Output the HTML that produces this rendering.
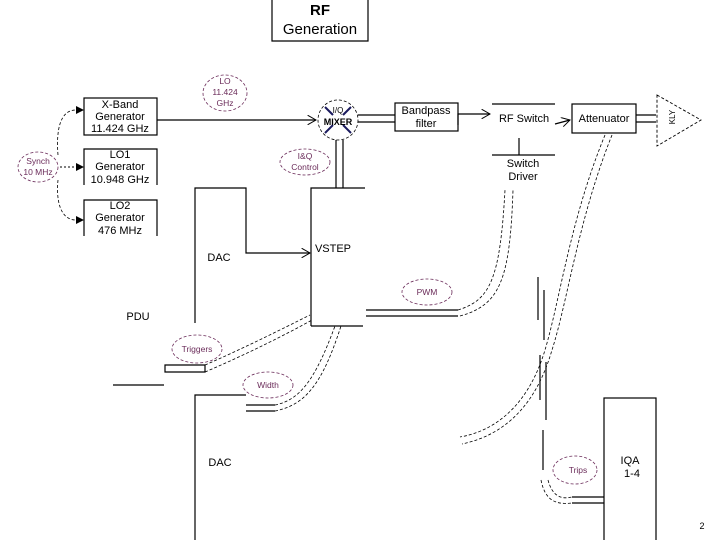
<!DOCTYPE html>
<html><head><meta charset="utf-8"><style>
body{margin:0;background:#fff;}
svg{display:block}
text{font-family:"Liberation Sans",sans-serif;}
.b{font-size:11px;fill:#000;text-anchor:middle}
.p{font-size:8.5px;fill:#6b2c5a;text-anchor:middle}
.e{fill:none;stroke:#6b2c5a;stroke-width:0.8;stroke-dasharray:3,2}
.d{fill:none;stroke:#000;stroke-width:0.8;stroke-dasharray:3,2}
</style></head><body>
<svg width="720" height="540" viewBox="0 0 720 540">
<defs><marker id="a" markerWidth="8" markerHeight="8" refX="7" refY="4" orient="auto"><path d="M0,0 L7,4 L0,8" fill="none" stroke="#000" stroke-width="0.8"/></marker></defs>
<g stroke="#000" stroke-width="1.2" fill="none">
<path d="M272,0 V41 H368 V0"/>
<rect x="84" y="98" width="73" height="37"/>
<path d="M84,185 V149 H157 V185"/>
<path d="M84,236 V200 H157 V236"/>
<line x1="157" y1="120" x2="316" y2="120" marker-end="url(#a)"/>
<path d="M336,188 V140 M343,188 V140"/>
<path d="M195,323 V188 H246 V253 H310" marker-end="url(#a)"/>
<path d="M311,326 V188 H365 M311,326 H363"/>
<path d="M358,115 H395 M358,122 H395"/>
<rect x="395" y="103" width="63" height="28"/>
<path d="M458,125 V114 H490" marker-end="url(#a)"/>
<line x1="492" y1="104" x2="555" y2="104"/>
<line x1="555" y1="124" x2="570" y2="120" marker-end="url(#a)"/>
<rect x="572" y="104" width="64" height="29"/>
<path d="M636,115 H656 M636,122 H656"/>
<path d="M657,95 L701,120 L657,146 Z" stroke-dasharray="3,2" stroke-width="0.9"/>
<line x1="492" y1="155" x2="555" y2="155"/>
<line x1="519" y1="155" x2="519" y2="138"/>
<path d="M366,310 H458 M366,316 H458"/>
<path d="M165,365 H205 V372 H165 Z"/>
<line x1="113" y1="385" x2="164" y2="385"/>
<path d="M195,540 V395 H246"/>
<path d="M246,405 H275 M246,411 H275"/>
<rect x="604" y="398" width="52" height="150"/>
<path d="M572,497 H604 M572,503 H604"/>
<path d="M538,277 V320 M544,290 V340 M540,355 V400 M546,362 V420 M543,430 V470"/>
</g>
<g class="d">
<path d="M458,310 C490,300 500,280 505,190"/>
<path d="M460,316 C500,305 510,280 513,190"/>
<path d="M605,135 C570,220 560,300 545,350 C530,400 500,430 460,437"/>
<path d="M612,135 C578,220 568,300 552,350 C536,405 505,435 462,444"/>
<path d="M548,480 C552,495 560,500 572,497"/><path d="M541,480 C545,500 555,505 572,503"/>
<path d="M205,365 C240,350 280,330 310,315"/><path d="M205,372 C245,355 285,335 312,320"/>
<path d="M275,405 C300,400 315,380 335,326"/><path d="M275,411 C305,405 322,385 341,326"/>
<path d="M58,180 C56,200 60,220 76,220"/>
<path d="M58,155 C56,130 60,110 76,110"/>
</g>
<g fill="#000"><path d="M76,106 L84,110 L76,114Z"/><path d="M76,163 L84,167 L76,171Z"/><path d="M76,216 L84,220 L76,224Z"/></g>
<path d="M60,167 H76" stroke="#000" stroke-dasharray="2,2" fill="none"/>
<circle cx="338" cy="120" r="20" class="d"/>
<g stroke="#1a1a5e" stroke-width="2"><line x1="325" y1="107" x2="333" y2="115"/><line x1="351" y1="107" x2="343" y2="115"/><line x1="325" y1="133" x2="333" y2="125"/><line x1="351" y1="133" x2="343" y2="125"/></g>
<g>
<ellipse cx="38" cy="167" rx="20" ry="15" class="e"/>
<ellipse cx="225" cy="93" rx="22" ry="18" class="e"/>
<ellipse cx="305" cy="162" rx="25" ry="13" class="e"/>
<ellipse cx="427" cy="292" rx="25" ry="13" class="e"/>
<ellipse cx="197" cy="349" rx="25" ry="14" class="e"/>
<ellipse cx="268" cy="385" rx="25" ry="13" class="e"/>
<ellipse cx="575" cy="470" rx="22" ry="14" class="e"/>
</g>
<text x="320" y="15" style="font-size:15px;font-weight:bold" text-anchor="middle">RF</text>
<text x="320" y="34" style="font-size:15px" text-anchor="middle">Generation</text>
<text class="b" x="120" y="108">X-Band</text><text class="b" x="120" y="120">Generator</text><text class="b" x="120" y="132">11.424 GHz</text>
<text class="b" x="120" y="158">LO1</text><text class="b" x="120" y="170">Generator</text><text class="b" x="120" y="183">10.948 GHz</text>
<text class="b" x="120" y="209">LO2</text><text class="b" x="120" y="221">Generator</text><text class="b" x="120" y="234">476 MHz</text>
<text class="p" x="38" y="164">Synch</text><text class="p" x="38" y="175">10 MHz</text>
<text class="p" x="225" y="84">LO</text><text class="p" x="225" y="95">11.424</text><text class="p" x="225" y="106">GHz</text>
<text class="p" x="305" y="159">I&amp;Q</text><text class="p" x="305" y="170">Control</text>
<text x="338" y="113" style="font-size:8px" text-anchor="middle">I/Q</text>
<text x="338" y="125" style="font-size:9px;font-weight:bold" text-anchor="middle">MIXER</text>
<text class="b" x="426" y="114">Bandpass</text><text class="b" x="426" y="127">filter</text>
<text class="b" x="524" y="122">RF Switch</text>
<text class="b" x="604" y="122">Attenuator</text>
<text x="678" y="120" style="font-size:8px" text-anchor="middle" transform="rotate(-90 675 120)">KLY</text>
<text class="b" x="523" y="167">Switch</text><text class="b" x="523" y="180">Driver</text>
<text class="b" x="219" y="261">DAC</text>
<text class="b" x="333" y="252">VSTEP</text>
<text class="p" x="427" y="295">PWM</text>
<text class="b" x="138" y="320">PDU</text>
<text class="p" x="197" y="352">Triggers</text>
<text class="p" x="268" y="388">Width</text>
<text class="b" x="220" y="466">DAC</text>
<text class="p" x="578" y="473">Trips</text>
<text class="b" x="630" y="464">IQA</text><text class="b" x="632" y="477">1-4</text>
<text x="702" y="529" style="font-size:9px" text-anchor="middle">2</text>
</svg>
</body></html>
